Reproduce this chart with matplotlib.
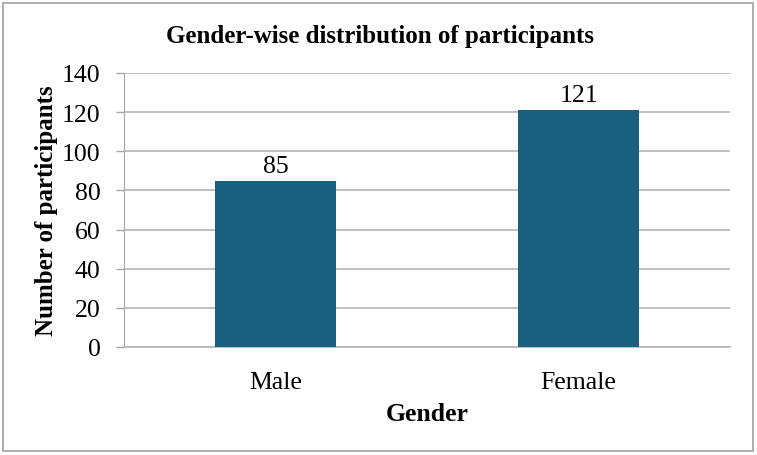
import matplotlib
matplotlib.use("Agg")
import matplotlib.pyplot as plt
from matplotlib.patches import Rectangle

categories = ["Male", "Female"]
values = [85, 121]
yticks = [0, 20, 40, 60, 80, 100, 120, 140]

plt.rcParams['font.family'] = ['Liberation Serif', 'DejaVu Serif']

fig = plt.figure(figsize=(7.57, 4.56), dpi=100)
ax = fig.add_axes([124/757, 1-348/456, (730-124)/757, (348-74)/456])

x = list(range(len(categories)))
bars = ax.bar(x, values, width=0.4, color="#185F80", zorder=3)
for xi, v in zip(x, values):
    ax.text(xi, v + 2.0, str(v), ha="center", va="bottom", fontsize=18.5, color="black")

ax.set_xlim(-0.5, len(categories) - 0.5)
ax.set_ylim(0, 140)
ax.set_yticks(yticks)
ax.set_yticklabels([str(t) for t in yticks], fontsize=18.5)
ax.set_xticks(x)
ax.set_xticklabels(categories, fontsize=18.5)
ax.tick_params(axis="x", length=0, pad=17)
ax.tick_params(axis="y", length=6, color="#A6A6A6", width=1, pad=11)
ax.yaxis.grid(True, color="#B5B5B5", linewidth=1.2, zorder=0)
for s in ["top", "right"]:
    ax.spines[s].set_visible(False)
ax.spines["left"].set_color("#A6A6A6")
ax.spines["bottom"].set_color("#B5B5B5")
ax.spines["bottom"].set_linewidth(1.2)

ax.set_xlabel("Gender", fontsize=18.5, fontweight="bold", labelpad=7)
ax.set_ylabel("Number of participants", fontsize=18, fontweight="bold", labelpad=2.5)
fig.text(380/757, 1-37/456, "Gender-wise distribution of participants",
         ha="center", va="center", fontsize=18, fontweight="bold")

fig.patches.append(Rectangle((3/757, 4/456), (753-3)/757, (452-4)/456,
                             transform=fig.transFigure, fill=False,
                             edgecolor="#A0A0A0", linewidth=1.2))

fig.savefig("out.png", dpi=100)
